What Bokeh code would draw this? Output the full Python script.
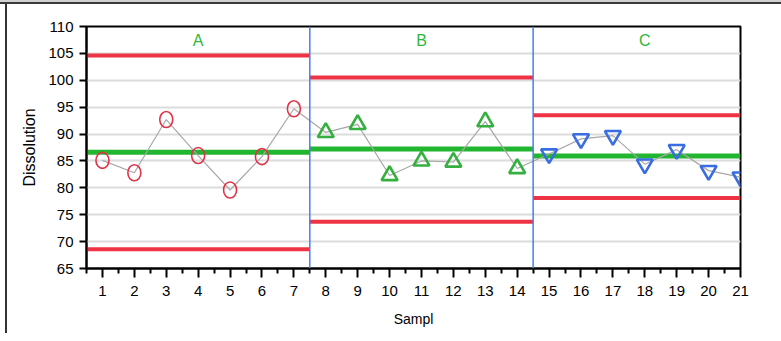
from bokeh.plotting import figure
from bokeh.models import FixedTicker, Span, Range1d
from bokeh.core.properties import value
from bokeh.embed import file_html
from bokeh.resources import INLINE

# ---- data ----
samples_a = [1, 2, 3, 4, 5, 6, 7]
values_a = [85.1, 82.8, 92.7, 86.0, 79.6, 85.8, 94.7]
samples_b = [8, 9, 10, 11, 12, 13, 14]
values_b = [90.3, 91.8, 82.3, 85.0, 84.8, 92.3, 83.6]
samples_c = [15, 16, 17, 18, 19, 20, 21]
values_c = [86.3, 89.1, 89.7, 84.4, 87.1, 83.2, 82.0]

groups = ["A", "B", "C"]
group_start = [0.5, 7.5, 14.5]
group_end = [7.5, 14.5, 21.0]
group_mid = [4, 11, 18]
ucl = [104.6, 100.5, 93.5]
center = [86.6, 87.2, 85.9]
lcl = [68.6, 73.7, 78.1]

y_ticks = [65, 70, 75, 80, 85, 90, 95, 100, 105, 110]
x_ticks = list(range(1, 22))
x_minor = [i + 0.5 for i in range(0, 21)]

FONT = "Liberation Sans"

p = figure(width=781, height=333, output_backend="svg", toolbar_location=None,
           x_range=Range1d(0.5, 21), y_range=Range1d(65, 110),
           min_border_left=86, min_border_right=41, min_border_top=26, min_border_bottom=65)

p.background_fill_color = "white"
p.border_fill_color = None
p.styles = {
    "background-color": "white",
    "background-image": ("linear-gradient(to bottom, #d0d0d0 0px, #d0d0d0 2px, #3a3a3a 2px, "
                         "#3a3a3a 4px, transparent 4px), "
                         "linear-gradient(to right, transparent 5px, #333333 5px, #333333 7px, "
                         "transparent 7px)"),
}
p.outline_line_color = "black"
p.outline_line_width = 2

# grid
p.xgrid.grid_line_color = None
p.ygrid.grid_line_color = "#dcdcdc"
p.ygrid.grid_line_width = 2
p.ygrid.ticker = FixedTicker(ticks=y_ticks)

# axes
p.yaxis.ticker = FixedTicker(ticks=y_ticks)
p.xaxis.ticker = FixedTicker(ticks=x_ticks, minor_ticks=x_minor)
for ax in (p.xaxis[0], p.yaxis[0]):
    ax.axis_line_color = "black"
    ax.axis_line_width = 2
    ax.major_tick_line_color = "black"
    ax.major_tick_line_width = 2
    ax.minor_tick_line_color = "black"
    ax.minor_tick_line_width = 2
    ax.major_label_text_font = FONT
    ax.major_label_text_font_size = "15px"
    ax.major_label_text_color = "black"
    ax.axis_label_text_font = FONT
    ax.axis_label_text_font_style = "normal"
    ax.axis_label_text_color = "black"
p.xaxis.axis_label_text_font_size = "14px"
p.yaxis.axis_label_text_font_size = "16px"
p.xaxis.major_tick_in = 0
p.xaxis.major_tick_out = 9
p.xaxis.minor_tick_in = 0
p.xaxis.minor_tick_out = 5
p.yaxis.major_tick_in = 0
p.yaxis.major_tick_out = 7
p.yaxis.minor_tick_line_color = None
p.xaxis.major_label_standoff = 8
p.yaxis.major_label_standoff = 6
p.xaxis.axis_label = "Sampl"
p.yaxis.axis_label = "Dissolution"
p.xaxis.axis_label_standoff = 12
p.yaxis.axis_label_standoff = 7

# control limits
p.segment(x0=group_start, x1=group_end, y0=ucl, y1=ucl, line_color="#ee3344", line_width=4)
p.segment(x0=group_start, x1=group_end, y0=lcl, y1=lcl, line_color="#ee3344", line_width=4)
p.segment(x0=group_start, x1=group_end, y0=center, y1=center, line_color="#22b530", line_width=5)

# separators
for xs in group_start[1:]:
    p.add_layout(Span(location=xs, dimension="height", line_color="#4a7cf0", line_width=1.5))

# connecting line
all_x = samples_a + samples_b + samples_c
all_y = values_a + values_b + values_c
p.line(all_x, all_y, line_color="#a8a8a8", line_width=1.2)

# markers
p.ellipse(x=samples_a, y=values_a, width=13, height=16, width_units="screen",
          height_units="screen", fill_color=None, line_color="#e03348", line_width=1.6)
p.scatter(x=samples_b, y=values_b, marker="triangle", size=16, fill_color=None,
          line_color="#35b040", line_width=2.6)
p.scatter(x=samples_c, y=values_c, marker="inverted_triangle", size=16, fill_color=None,
          line_color="#3a6ee0", line_width=2.6)

# group labels
p.text(x=group_mid, y=[107.4] * 3, text=groups, text_align="center", text_baseline="middle",
       text_color="#2fb83a", text_font=value(FONT), text_font_size="16px")

open("out.html", "w").write(file_html(p, INLINE))
